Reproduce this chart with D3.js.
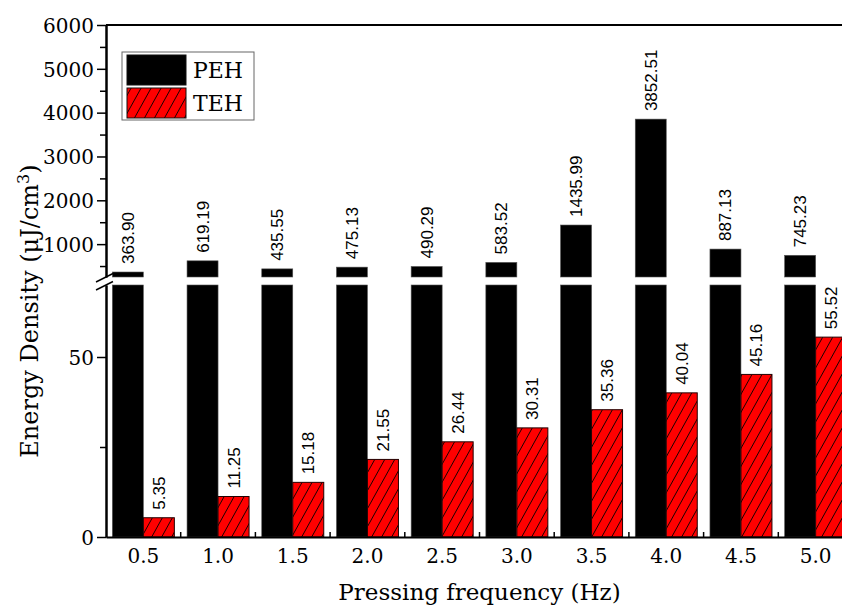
<!DOCTYPE html>
<html>
<head>
<meta charset="utf-8">
<script src="https://cdn.jsdelivr.net/npm/d3@7"></script>
<style>
  body { margin: 0; background: #fff; }
  svg { display: block; }
  .tick text { font-family: "DejaVu Serif", serif; font-size: 20px; fill: #000; }
  .vlabel { font-family: "Liberation Sans", Arial, sans-serif; font-size: 17px; fill: #000; }
</style>
</head>
<body>
<div id="container"></div>
<script>
// data
const freqs = ["0.5", "1.0", "1.5", "2.0", "2.5", "3.0", "3.5", "4.0", "4.5", "5.0"]
const peh = [363.90, 619.19, 435.55, 475.13, 490.29, 583.52, 1435.99, 3852.51, 887.13, 745.23]
const teh = [5.35, 11.25, 15.18, 21.55, 26.44, 30.31, 35.36, 40.04, 45.16, 55.52]
const upperTicks = [1000, 2000, 3000, 4000, 5000, 6000]
const upperMinor = [500, 1500, 2500, 3500, 4500, 5500]
const lowerTicks = [0, 50]
const lowerMinor = [25]

const W = 842, H = 610
const m = {left: 106, right: 853, bottom: 537, top: 25}

const svg = d3.select("#container").append("svg")
  .attr("width", W).attr("height", H)

// hatch for TEH
const defs = svg.append("defs")
const pat = defs.append("pattern")
  .attr("id", "hatch")
  .attr("patternUnits", "userSpaceOnUse")
  .attr("width", 10).attr("height", 18)
pat.append("rect").attr("width", 10).attr("height", 18).attr("fill", "#ff0000")
pat.append("path")
  .attr("d", "M-1,19.8 L11,-1.8 M-11,19.8 L1,-1.8 M9,19.8 L21,-1.8")
  .attr("stroke", "#000").attr("stroke-width", 0.9)

// SCALES
const x = d3.scaleBand().domain(freqs).range([m.left, m.right])
  .paddingInner(0.17).paddingOuter(0.085)
const bw = x.bandwidth() / 2

const yUp = d3.scaleLinear().domain([250, 6000]).range([277, m.top])
const yLow = d3.scaleLinear().domain([0, 70]).range([m.bottom, 285])

// PEH bars, upper part
svg.selectAll("rect.pehUp")
  .data(peh).enter().append("rect")
  .attr("class", "pehUp")
  .attr("x", (d, i) => x(freqs[i]))
  .attr("y", d => yUp(d))
  .attr("width", bw)
  .attr("height", d => yUp(250) - yUp(d))
  .attr("fill", "#000").attr("stroke", "#555").attr("stroke-width", 0.6)

// PEH bars, lower part (all above 70)
svg.selectAll("rect.pehLow")
  .data(peh).enter().append("rect")
  .attr("class", "pehLow")
  .attr("x", (d, i) => x(freqs[i]))
  .attr("y", yLow(70))
  .attr("width", bw)
  .attr("height", yLow(0) - yLow(70))
  .attr("fill", "#000").attr("stroke", "#555").attr("stroke-width", 0.6)

// TEH bars
svg.selectAll("rect.teh")
  .data(teh).enter().append("rect")
  .attr("class", "teh")
  .attr("x", (d, i) => x(freqs[i]) + bw)
  .attr("y", d => yLow(d))
  .attr("width", bw)
  .attr("height", d => yLow(0) - yLow(d))
  .attr("fill", "url(#hatch)").attr("stroke", "#200").attr("stroke-width", 1)

// value labels
svg.selectAll("text.pehLab")
  .data(peh).enter().append("text")
  .attr("class", "vlabel")
  .attr("transform", (d, i) => "translate(" + (x(freqs[i]) + bw / 2 + 6) + "," + (yUp(d) - 8) + ") rotate(-90)")
  .text(d => d.toFixed(2))

svg.selectAll("text.tehLab")
  .data(teh).enter().append("text")
  .attr("class", "vlabel")
  .attr("transform", (d, i) => "translate(" + (x(freqs[i]) + bw * 1.5 + 6) + "," + (yLow(d) - 8) + ") rotate(-90)")
  .text(d => d.toFixed(2))

// AXES
svg.append("g").attr("transform", "translate(" + m.left + ",0)")
  .call(d3.axisLeft(yUp).tickValues(upperTicks).tickSize(9).tickSizeOuter(0).tickPadding(3).tickFormat(d3.format("d")))
svg.append("g").attr("transform", "translate(" + m.left + ",0)")
  .call(d3.axisLeft(yUp).tickValues(upperMinor).tickSize(6).tickSizeOuter(0).tickFormat(""))

svg.append("g").attr("transform", "translate(" + m.left + ",0)")
  .call(d3.axisLeft(yLow).tickValues(lowerTicks).tickSize(9).tickSizeOuter(0).tickPadding(3))
svg.append("g").attr("transform", "translate(" + m.left + ",0)")
  .call(d3.axisLeft(yLow).tickValues(lowerMinor).tickSize(6).tickSizeOuter(0).tickFormat(""))

svg.selectAll(".domain").attr("stroke-width", 2)
svg.selectAll(".tick line").attr("stroke-width", 1.5)
svg.selectAll(".tick text").attr("dy", "0.36em")

// x axis
const gx = svg.append("g").attr("transform", "translate(0," + m.bottom + ")")
  .call(d3.axisBottom(x).tickSize(0).tickSizeOuter(0).tickPadding(12))
gx.selectAll(".tick text").attr("dy", "0.71em")
gx.select(".domain").attr("stroke-width", 2)

// in-between ticks pointing up
const gap = x.step() - x.bandwidth()
svg.selectAll("line.xt")
  .data(freqs.slice(1)).enter().append("line")
  .attr("x1", d => x(d) - gap / 2).attr("x2", d => x(d) - gap / 2)
  .attr("y1", m.bottom).attr("y2", m.bottom - 5)
  .attr("stroke", "#000").attr("stroke-width", 1.5)

// top frame
svg.append("line")
  .attr("x1", m.left).attr("x2", m.right)
  .attr("y1", m.top).attr("y2", m.top)
  .attr("stroke", "#000").attr("stroke-width", 2)

// break marks
const breaks = [yUp(250), yLow(70)]
svg.selectAll("line.brk")
  .data(breaks).enter().append("line")
  .attr("x1", m.left - 10).attr("y1", d => d + 5)
  .attr("x2", m.left + 7).attr("y2", d => d - 3.5)
  .attr("stroke", "#000").attr("stroke-width", 1.5)

// axis titles
svg.append("text")
  .attr("x", (m.left + m.right) / 2).attr("y", 600)
  .attr("text-anchor", "middle")
  .style("font-family", "DejaVu Serif, serif").style("font-size", "23px")
  .text("Pressing frequency (Hz)")

const yt = svg.append("text")
  .attr("transform", "translate(38,311) rotate(-90)")
  .attr("text-anchor", "middle")
  .style("font-family", "DejaVu Serif, serif").style("font-size", "24px")
yt.append("tspan").text("Energy Density (μJ/cm")
yt.append("tspan").attr("dy", "-0.55em").style("font-size", "16px").text("3")
yt.append("tspan").attr("dy", "0.35em").text(")")

// legend
const leg = svg.append("g")
leg.append("rect").attr("x", 122).attr("y", 52).attr("width", 132).attr("height", 68)
  .attr("fill", "#fff").attr("stroke", "#666").attr("stroke-width", 1)
const legItems = ["PEH", "TEH"]
const legFill = ["#000", "url(#hatch)"]
leg.selectAll("rect.sw").data(legItems).enter().append("rect")
  .attr("x", 127).attr("y", (d, i) => 55 + i * 33)
  .attr("width", 59).attr("height", 30)
  .attr("fill", (d, i) => legFill[i]).attr("stroke", "#111").attr("stroke-width", 1)
leg.selectAll("text").data(legItems).enter().append("text")
  .attr("x", 193).attr("y", (d, i) => 78 + i * 33)
  .style("font-family", "DejaVu Serif, serif").style("font-size", "22px")
  .text(d => d)
</script>
</body>
</html>
